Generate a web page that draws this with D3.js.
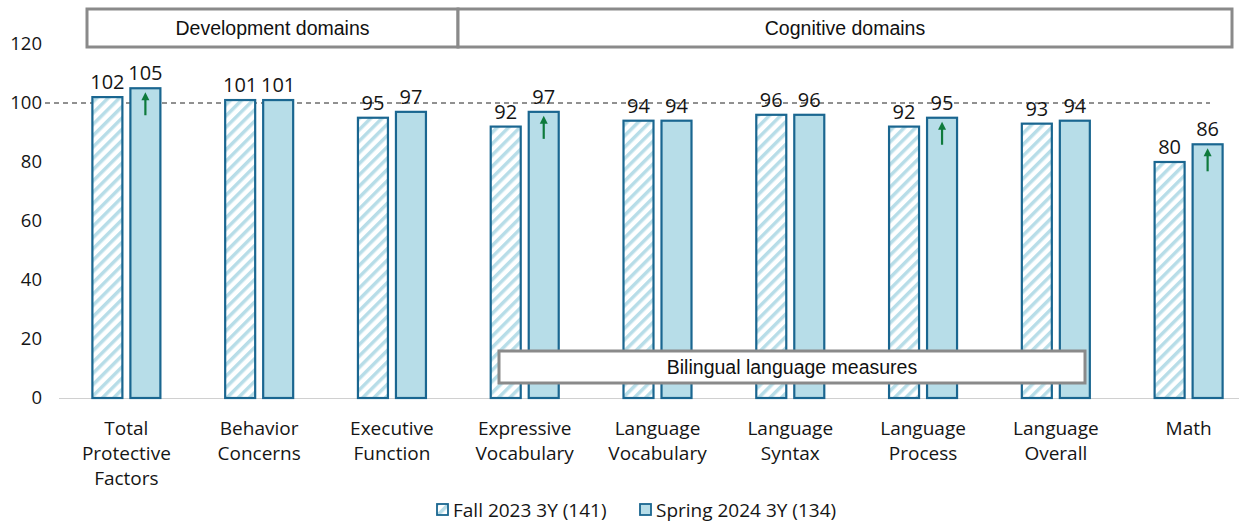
<!DOCTYPE html>
<html><head><meta charset="utf-8">
<script src="https://cdn.jsdelivr.net/npm/d3@7"></script>
<style>body{margin:0;background:#fff}svg{display:block}</style>
</head><body><svg id="c" width="1239" height="527"></svg>
<script>
const categories = [["Total","Protective","Factors"],["Behavior","Concerns"],["Executive","Function"],["Expressive","Vocabulary"],["Language","Vocabulary"],["Language","Syntax"],["Language","Process"],["Language","Overall"],["Math"]];
const fall2023 = [102,101,95,92,94,96,92,93,80];
const spring2024 = [105,101,97,97,94,96,95,94,86];
const increased = [true,false,false,true,false,false,true,false,true];
const yTicks = [0,20,40,60,80,100,120];
const seriesNames = ["Fall 2023 3Y (141)","Spring 2024 3Y (134)"];

const svg = d3.select("#c");
const font = "'Open Sans', 'Noto Sans', sans-serif";
const stroke = "#1a6690", fill = "#b7dde8", txt = "#151515";

const defs = svg.append("defs");
const pat = defs.append("pattern").attr("id","hatch").attr("patternUnits","userSpaceOnUse")
  .attr("width",8).attr("height",8).attr("patternTransform","rotate(45)");
pat.append("rect").attr("width",8).attr("height",8).attr("fill","#fff");
pat.append("rect").attr("x",0).attr("width",3.5).attr("height",8).attr("fill",fill);

const x = d3.scaleBand().domain(d3.range(categories.length)).range([60,1255]);
const y = d3.scaleLinear().domain([0,120]).range([398,44]);

// y axis labels
svg.append("g").selectAll("text").data(yTicks).join("text")
  .attr("x",42).attr("y",d=>y(d)).attr("dy","0.35em").attr("text-anchor","end")
  .attr("font-family",font).attr("font-size",18.5).attr("fill",txt).text(d=>d);

// baseline
svg.append("line").attr("x1",59).attr("x2",1239).attr("y1",y(0)+0.5).attr("y2",y(0)+0.5)
  .attr("stroke","#d0d0d0").attr("stroke-width",1.2);
// dashed 100 line
svg.append("line").attr("x1",45).attr("x2",1210).attr("y1",y(100)).attr("y2",y(100))
  .attr("stroke","#222").attr("stroke-width",1).attr("stroke-dasharray","5,4");

const bw = 30, gap = 8;
const g = svg.append("g");
categories.forEach((c,i)=>{
  const cx = x(i)+x.bandwidth()/2;
  const vals = [fall2023[i], spring2024[i]];
  vals.forEach((v,j)=>{
    const bx = j===0 ? cx - gap/2 - bw : cx + gap/2;
    g.append("rect").attr("x",bx).attr("y",y(v)).attr("width",bw).attr("height",y(0)-y(v))
      .attr("fill", j===0 ? "url(#hatch)" : fill).attr("stroke",stroke).attr("stroke-width",2.2);
    g.append("text").attr("x",bx+bw/2).attr("y",y(v)-8).attr("text-anchor","middle")
      .attr("font-family",font).attr("font-size",20).attr("fill",txt).text(v);
    if(j===1 && increased[i]){
      const ax = bx+bw/2, top = y(v)+4, bot = y(v)+27;
      g.append("line").attr("x1",ax).attr("x2",ax).attr("y1",top+6).attr("y2",bot)
        .attr("stroke","#0e7a3c").attr("stroke-width",2.2);
      g.append("path").attr("d",`M${ax-4},${top+8}L${ax},${top}L${ax+4},${top+8}Z`).attr("fill","#0e7a3c");
    }
  });
  const t = g.append("text").attr("x",cx).attr("y",435).attr("text-anchor","middle")
    .attr("font-family",font).attr("font-size",19).attr("fill",txt);
  c.forEach((line,k)=> t.append("tspan").attr("x",cx).attr("dy",k===0?0:25).text(line));
});

// header boxes
const boxFont = "'Liberation Sans Narrow', 'Arial Narrow', 'Liberation Sans', sans-serif";
function box(x0,x1,y0,y1,label){
  svg.append("rect").attr("x",x0).attr("y",y0).attr("width",x1-x0).attr("height",y1-y0)
    .attr("fill","#fff").attr("stroke","#8a8a8a").attr("stroke-width",3);
  svg.append("text").attr("x",(x0+x1)/2).attr("y",(y0+y1)/2).attr("dy","0.35em").attr("text-anchor","middle")
    .attr("font-family",boxFont).attr("font-size",19.5).attr("fill","#111").text(label);
}
box(87,458,9,47,"Development domains");
box(458,1232,9,47,"Cognitive domains");
box(499,1085,351,383,"Bilingual language measures");

// legend
const leg = svg.append("g");
const legX = [437,640];
seriesNames.forEach((n,j)=>{
  leg.append("rect").attr("x",legX[j]).attr("y",504).attr("width",11).attr("height",11)
    .attr("fill", j===0?"url(#hatch)":fill).attr("stroke",stroke).attr("stroke-width",1.8);
  leg.append("text").attr("x",legX[j]+16).attr("y",510).attr("dy","0.35em")
    .attr("font-family",font).attr("font-size",19).attr("fill",txt).text(n);
});
</script></body></html>
